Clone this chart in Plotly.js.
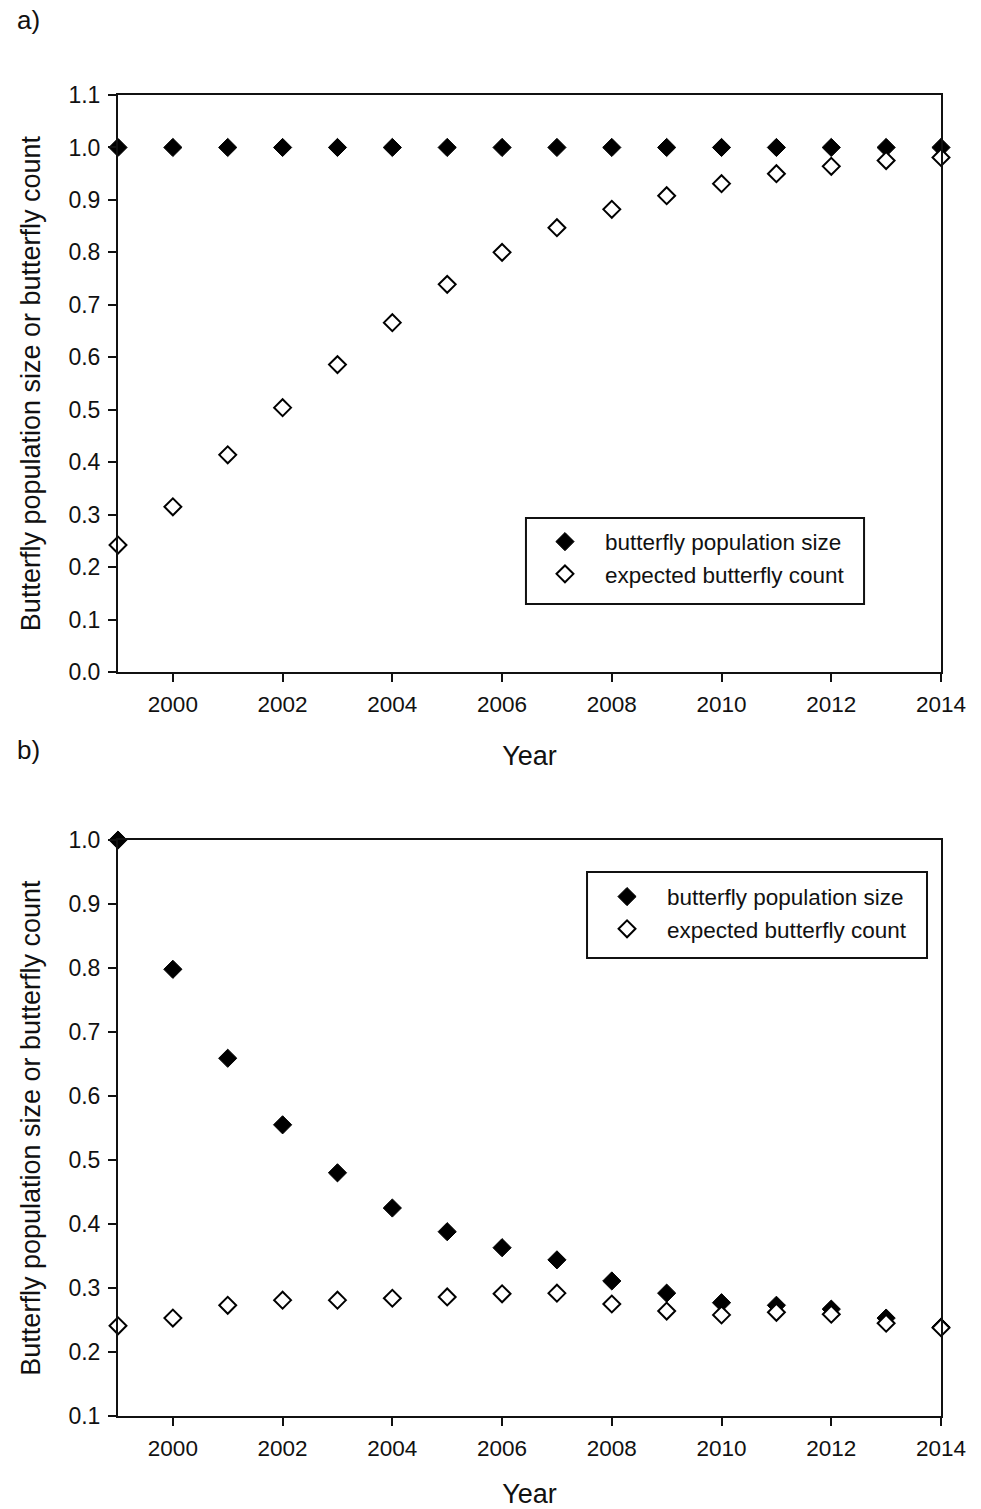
<!DOCTYPE html>
<html>
<head>
<meta charset="utf-8">
<script src="https://cdn.plot.ly/plotly-3.0.1.min.js"></script>
<style>html,body{margin:0;padding:0;background:#fff;}#chart{width:981px;height:1509px;}</style>
</head>
<body>
<div id="chart"></div>
<script>
const years = [1999,2000,2001,2002,2003,2004,2005,2006,2007,2008,2009,2010,2011,2012,2013,2014];
const popA = [1,1,1,1,1,1,1,1,1,1,1,1,1,1,1,1];
const countA = [0.242,0.315,0.414,0.504,0.586,0.666,0.739,0.800,0.847,0.882,0.908,0.931,0.950,0.964,0.975,0.981];
const popB = [1.0,0.798,0.659,0.555,0.480,0.425,0.388,0.363,0.344,0.311,0.292,0.277,0.273,0.267,0.253,0.239];
const countB = [0.241,0.253,0.273,0.281,0.281,0.284,0.286,0.291,0.292,0.275,0.264,0.258,0.262,0.259,0.245,0.238];
const seriesNames = ['butterfly population size','expected butterfly count'];
const panelLabels = ['a)','b)'];
const xTitle = 'Year';
const yTitle = 'Butterfly population size or butterfly count';

const FONT = 'Arial, "Liberation Sans", sans-serif';
const INK = '#111';
const filled = {symbol:'diamond', size:14, color:'#000', line:{color:'#000', width:1}};
const open = {symbol:'diamond', size:13, color:'#fff', line:{color:'#000', width:2}};

const traces = [
  {x:years, y:popA, mode:'markers', name:seriesNames[0], marker:filled, xaxis:'x', yaxis:'y', cliponaxis:false, legend:'legend'},
  {x:years, y:countA, mode:'markers', name:seriesNames[1], marker:open, xaxis:'x', yaxis:'y', cliponaxis:false, legend:'legend'},
  {x:years, y:popB, mode:'markers', name:seriesNames[0], marker:filled, xaxis:'x2', yaxis:'y2', cliponaxis:false, legend:'legend2'},
  {x:years, y:countB, mode:'markers', name:seriesNames[1], marker:open, xaxis:'x2', yaxis:'y2', cliponaxis:false, legend:'legend2'}
];

function xax(anchor){
  return {anchor:anchor, domain:[0,1], range:[1999,2014], tick0:2000, dtick:2, ticks:'outside', ticklen:8, tickwidth:2, tickcolor:INK,
    ticklabelstandoff:3,
    showline:true, mirror:true, linecolor:INK, linewidth:2, showgrid:false, zeroline:false,
    tickfont:{family:FONT, size:22.5, color:INK},
    title:{text:xTitle, font:{family:FONT, size:27, color:INK}, standoff:30}};
}
function yax(anchor, range, domain){
  return {anchor:anchor, domain:domain, range:range, dtick:0.1, tickformat:'.1f', ticks:'outside', ticklen:8, tickwidth:2, tickcolor:INK,
    ticklabelstandoff:3,
    showline:true, mirror:true, linecolor:INK, linewidth:2, showgrid:false, zeroline:false,
    tickfont:{family:FONT, size:23, color:INK},
    title:{text:yTitle, font:{family:FONT, size:27, color:INK}, standoff:20}};
}

const legendBase = {borderwidth:0, bgcolor:'rgba(0,0,0,0)', font:{family:FONT, size:22.5, color:INK},
  itemwidth:70, tracegroupgap:0, xanchor:'left', yanchor:'top', itemclick:false};

// paper coords helpers for the plot box (l=118, r=40, t=95, b=93)
const boxStyle = {type:'rect', xref:'paper', yref:'paper', line:{color:INK, width:2}, fillcolor:'#fff', layer:'below'};

const layout = {
  width:981, height:1509,
  margin:{l:118, r:40, t:95, b:93},
  paper_bgcolor:'#fff', plot_bgcolor:'rgba(0,0,0,0)',
  showlegend:true,
  xaxis: xax('y'),
  yaxis: yax('x', [0,1.1], [0.5632,1]),
  xaxis2: xax('y2'),
  yaxis2: yax('x2', [0.1,1.0], [0,0.436]),
  legend: Object.assign({}, legendBase, {x:0.4945, y:0.6779}),
  legend2: Object.assign({}, legendBase, {x:0.5699, y:0.4092}),
  shapes:[
    Object.assign({x0:0.4957, x1:0.9065, y0:0.6147, y1:0.6798}, boxStyle),
    Object.assign({x0:0.5699, x1:0.9830, y0:0.3467, y1:0.4118}, boxStyle)
  ],
  annotations:[
    {text:panelLabels[0], xref:'paper', yref:'paper', x:-0.125, y:1.0568, xanchor:'left', yanchor:'middle', showarrow:false, font:{family:FONT, size:26, color:INK}},
    {text:panelLabels[1], xref:'paper', yref:'paper', x:-0.125, y:0.5042, xanchor:'left', yanchor:'middle', showarrow:false, font:{family:FONT, size:26, color:INK}}
  ]
};

Plotly.newPlot('chart', traces, layout, {staticPlot:true});
</script>
</body>
</html>
